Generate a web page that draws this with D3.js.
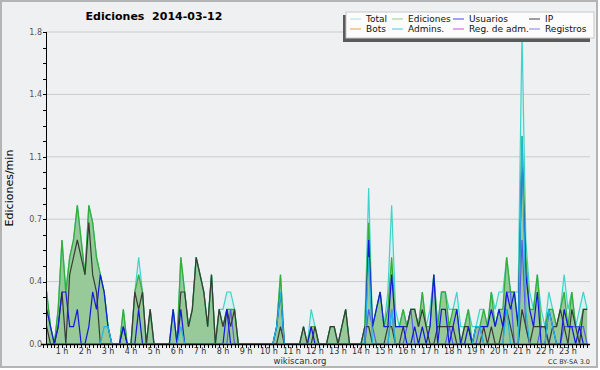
<!DOCTYPE html>
<html><head><meta charset="utf-8">
<script src="https://cdn.jsdelivr.net/npm/d3@7"></script>
<style>body{margin:0;background:#fff}svg{display:block}text{font-family:"DejaVu Sans",sans-serif}</style>
</head><body><svg id="c" width="600" height="370"></svg>
<script>
// 10-minute steps, 144 per day, values in edits/min
const hourLabels = d3.range(1,24).map(h => h + " h");
const yTicks = [0, 0.36, 0.72, 1.08, 1.44, 1.8];
const total = [
.2,.4,.3,.1,0,.2,.6,.3,.5,.6,.8,.6,
.4,.8,.7,.5,.4,.3,.1,0,0,0,.2,0,
0,.3,.5,.3,0,.2,0,0,0,0,0,.2,
0,.5,.3,.1,.2,.5,.4,.3,.1,.4,0,.2,
.2,.3,.3,.2,0,0,0,0,0,0,0,0,
0,0,.1,.4,0,0,0,0,0,.1,0,.2,
.1,0,0,0,.1,.1,0,.1,.2,0,0,0,
0,.1,.9,.1,.2,.3,.1,.3,.8,.2,.1,.2,
.1,.2,.2,.1,.3,.1,.2,.4,.1,.3,.3,.2,
.2,.3,.1,.1,.2,.1,.1,.2,.2,.1,.3,.2,
.3,.3,.5,.3,.3,.3,1.8,.6,.3,.2,.4,.2,
.1,.3,.2,.1,.2,.4,.2,.3,.1,.2,.3,.2];
const ediciones = [
.2,.4,.3,.1,0,.2,.6,.3,.5,.6,.8,.6,
.4,.8,.7,.5,.4,.3,.1,0,0,0,.2,0,
0,.3,.4,.3,0,.2,0,0,0,0,0,.2,
0,.5,.3,.1,.2,.5,.4,.3,.1,.4,0,.2,
.1,.2,.2,.2,0,0,0,0,0,0,0,0,
0,0,.1,.4,0,0,0,0,0,.1,0,.1,
.1,0,0,0,.1,.1,0,.1,.2,0,0,0,
0,.1,.7,.1,.2,.3,.1,.2,.5,.1,.1,.2,
.1,.2,.2,.1,.3,.1,.1,.4,.1,.3,.3,.1,
.2,.2,0,.1,.2,0,.1,.1,.2,.1,.3,.1,
.2,.2,.5,.3,.3,.1,1.2,.5,.2,.2,.4,.1,
.1,.2,.2,.1,.2,.3,.1,.3,.1,.1,.2,.2];
const ip = [
.1,.2,.1,0,0,.1,.3,0,.4,.5,.6,.5,
.4,.7,.4,.3,0,0,0,0,0,0,.1,0,
0,.3,.2,.3,0,.2,0,0,0,0,0,0,
0,.3,.3,.1,.2,.5,.4,.3,.1,.4,0,.2,
.1,.2,.1,.2,0,0,0,0,0,0,0,0,
0,0,0,.1,0,0,0,0,0,.1,0,0,
.1,0,0,0,.1,.1,0,.1,.2,0,0,0,
0,.1,.1,0,0,0,0,.1,.1,0,0,.1,
.1,.2,.2,.1,.2,.1,0,0,.1,.1,.1,.1,
.1,0,0,.1,.1,0,0,0,.1,0,.1,0,
0,.1,.2,.1,0,0,.2,.1,0,.1,.1,.1,
.1,0,.1,.1,.2,.1,0,.2,.1,0,.2,.2];
const usuarios = [
.1,.2,.2,.1,0,.1,.3,.3,.1,.1,.2,0,
0,.1,.3,.2,.4,.3,.1,0,0,0,.1,0,
0,0,.2,0,0,0,0,0,0,0,0,.2,
0,.2,0,0,0,0,0,0,0,0,0,0,
0,.2,0,0,0,0,0,0,0,0,0,0,
0,0,.1,.3,0,0,0,0,0,0,0,.1,
0,0,0,0,0,0,0,0,0,0,0,0,
0,0,.6,.1,.2,.3,.1,.1,.4,.1,.1,.1,
0,0,.1,0,.1,0,.1,.4,0,.2,.2,0,
.1,.2,0,0,.1,0,.1,.1,.1,.1,.2,.1,
.2,.1,.3,.2,.3,.1,1.1,.4,.2,.1,.3,0,
0,.2,.1,0,0,.2,.1,.1,0,.1,0,0];
const admins = [
0,0,0,0,0,0,0,0,0,0,0,0,
0,0,0,0,0,.1,.1,0,0,0,0,0,
0,0,0,0,0,0,0,0,0,0,0,0,
0,.1,0,0,0,0,0,0,0,0,0,0,
0,0,0,0,0,0,0,0,0,0,0,0,
0,0,.1,.3,0,0,0,0,0,0,0,0,
0,0,0,0,0,0,0,0,0,0,0,0,
0,0,.5,0,0,0,0,0,.2,0,0,0,
0,0,0,0,0,0,0,0,0,0,0,0,
0,0,0,0,0,0,.1,.1,0,0,0,0,
0,0,.2,0,0,0,1.2,.2,0,0,0,0,
0,.2,.1,0,0,0,0,0,0,0,0,0];
const registros = [
0,0,0,0,0,0,0,0,0,0,0,0,
0,0,0,0,0,0,0,0,0,0,0,0,
0,0,0,0,0,0,0,0,0,0,0,0,
0,0,0,0,0,0,0,0,0,0,0,0,
0,0,.2,0,0,0,0,0,0,0,0,0,
0,0,0,0,0,0,0,0,0,0,0,0,
0,0,0,0,0,0,0,0,0,0,0,0,
0,0,.2,.1,0,0,0,0,.2,0,0,0,
.1,.2,0,0,0,0,0,0,0,0,0,.1,
0,0,0,0,0,0,0,.1,0,0,0,0,
0,0,.3,.3,0,0,.6,.1,0,0,0,.1,
.1,0,0,0,0,.1,.1,.1,.1,.1,.1,0];
const legendItems = [
 ["Total","#a8e6e0"],["Ediciones","#90d090"],["Usuarios","#4848e0"],["IP","#404040"],
 ["Bots","#f0a040"],["Admins.","#48c8e0"],["Reg. de adm.","#d050e0"],["Registros","#8080f0"]];

const svg = d3.select("#c");
svg.append("rect").attr("x",1).attr("y",1).attr("width",596).attr("height",366)
  .attr("fill","#eef0f2").attr("stroke","#b4b4b4").attr("stroke-width",2);

const x = d3.scaleLinear().domain([0,144]).range([39,591]);
const y = d3.scaleLinear().domain([0,1.8]).range([344,32]);
const L = 46, R = 590;

// grid
svg.append("g").selectAll("line").data(yTicks.slice(1)).join("line")
  .attr("x1",L).attr("x2",R).attr("y1",d=>y(d)).attr("y2",d=>y(d))
  .attr("stroke","#cbcbcb").attr("stroke-width",1);

svg.append("defs").append("clipPath").attr("id","pc").append("rect")
  .attr("x",L).attr("y",0).attr("width",R-L+1).attr("height",344);
const g = svg.append("g").attr("clip-path","url(#pc)");
const idx = d3.range(144);
const area = arr => d3.area().x(i=>x(i)).y0(y(0)).y1(i=>y(arr[i]))(idx);
const line = arr => d3.line().x(i=>x(i)).y(i=>y(arr[i]))(idx);

g.append("path").attr("d",area(total)).attr("fill","#d6f1ee");
g.append("path").attr("d",area(ediciones)).attr("fill","#98c998");
g.append("path").attr("d",line(total)).attr("fill","none").attr("stroke","#3fd4c8").attr("stroke-width",1.2);
g.append("path").attr("d",line(ediciones)).attr("fill","none").attr("stroke","#36ad36").attr("stroke-width",1.3);
g.append("path").attr("d",line(registros)).attr("fill","none").attr("stroke","#5a5af0").attr("stroke-width",1.2);
g.append("path").attr("d",line(ip)).attr("fill","none").attr("stroke","#3a3a3a").attr("stroke-width",1.2);
g.append("path").attr("d",line(usuarios)).attr("fill","none").attr("stroke","#1616e0").attr("stroke-width",1.2);
g.append("path").attr("d",line(admins)).attr("fill","none").attr("stroke","#22b8dc").attr("stroke-width",1.2);

// y axis
const ya = svg.append("g");
ya.append("line").attr("x1",L+0.5).attr("x2",L+0.5).attr("y1",y(1.8)).attr("y2",344).attr("stroke","#000");
const minor = d3.range(0,21).map(k=>k*0.09);
ya.selectAll("line.t").data(minor).join("line").attr("class","t")
  .attr("x1",L-3).attr("x2",L).attr("y1",d=>Math.round(y(d))+0.5).attr("y2",d=>Math.round(y(d))+0.5).attr("stroke","#000");
ya.selectAll("text").data(yTicks).join("text")
  .attr("x",L-4).attr("y",d=>y(d)).attr("dy","0.35em").attr("text-anchor","end")
  .attr("font-size",8).attr("fill","#555").text(d=>d3.format(".1f")(d));

// x axis
const xa = svg.append("g");
xa.append("line").attr("x1",41).attr("x2",R).attr("y1",344.5).attr("y2",344.5).attr("stroke","#000").attr("stroke-width",1.5);
xa.selectAll("line.t").data(d3.range(1,144)).join("line").attr("class","t")
  .attr("x1",d=>Math.round(x(d))+0.5).attr("x2",d=>Math.round(x(d))+0.5).attr("y1",344).attr("y2",348).attr("stroke","#000");
xa.selectAll("text").data(hourLabels).join("text")
  .attr("x",(d,i)=>x((i+1)*6)).attr("y",354).attr("text-anchor","middle")
  .attr("font-size",8).attr("fill","#333").text(d=>d);

// texts
svg.append("text").attr("x",154).attr("y",20).attr("text-anchor","middle")
  .attr("font-size",11).attr("font-weight","bold").text("Ediciones  2014-03-12").style("white-space","pre");
svg.append("text").attr("transform","translate(13,188) rotate(-90)").attr("text-anchor","middle")
  .attr("font-size",11).text("Ediciones/min");
svg.append("text").attr("x",300).attr("y",364).attr("text-anchor","middle").attr("font-size",8.5).attr("fill","#333").text("wikiscan.org");
svg.append("text").attr("x",590).attr("y",364).attr("text-anchor","end").attr("font-size",6.5).attr("fill","#333").text("CC BY-SA 3.0");

// legend
const lg = svg.append("g");
lg.append("rect").attr("x",343).attr("y",15).attr("width",247).attr("height",27).attr("fill","#5a5a5a");
lg.append("rect").attr("x",346).attr("y",12).attr("width",248).attr("height",26).attr("fill","#fcfcfc").attr("stroke","#c8c8c8");
const colX = [350,392,453,529], txX = [366,408,469,545], rowY = [19,29];
legendItems.forEach((d,i)=>{
  const c = i%4, r = Math.floor(i/4);
  lg.append("line").attr("x1",colX[c]).attr("x2",colX[c]+11).attr("y1",rowY[r]).attr("y2",rowY[r]).attr("stroke",d[1]).attr("stroke-width",1);
  lg.append("text").attr("x",txX[c]).attr("y",rowY[r]).attr("dy","0.35em").attr("font-size",9).attr("fill","#111").text(d[0]);
});
</script></body></html>
